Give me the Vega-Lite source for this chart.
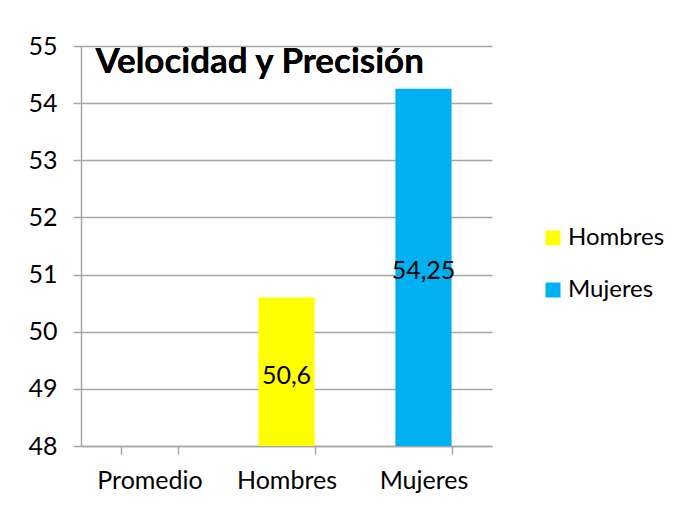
{
  "$schema": "https://vega.github.io/schema/vega-lite/v6.json",
  "width": 411,
  "height": 400,
  "autosize": {"type": "none"},
  "padding": {"left": 81, "top": 46, "right": 195, "bottom": 60},
  "background": "white",
  "data": {
    "values": [
      {"cat": "Hombres", "value": 50.6, "label": "50,6"},
      {"cat": "Mujeres", "value": 54.25, "label": "54,25"}
    ]
  },
  "encoding": {
    "x": {
      "field": "cat",
      "type": "nominal",
      "sort": null,
      "scale": {"domain": ["Promedio", "Hombres", "Mujeres"], "paddingInner": 0.59, "paddingOuter": 0.295},
      "axis": {
        "title": null,
        "labelAngle": 0,
        "tickBand": "extent",
        "tickSize": 8,
        "labelPadding": 14,
        "labelFont": "Lato",
        "labelFontSize": 25,
        "labelColor": "black",
        "domainColor": "#a6a6a6",
        "tickColor": "#a6a6a6",
        "domainWidth": 1.5,
        "tickWidth": 1.5,
        "grid": false
      }
    }
  },
  "layer": [
    {
      "mark": {"type": "bar"},
      "encoding": {
        "y": {
          "field": "value",
          "type": "quantitative",
          "scale": {"domain": [48, 55], "zero": false, "nice": false},
          "axis": {
            "title": null,
            "values": [48, 49, 50, 51, 52, 53, 54, 55],
            "format": "d",
            "grid": true,
            "gridColor": "#a6a6a6",
            "gridWidth": 1.5,
            "domainColor": "#a6a6a6",
            "domainWidth": 1.5,
            "tickColor": "#a6a6a6",
            "tickWidth": 1.5,
            "tickSize": 8,
            "labelPadding": 16,
            "labelFont": "Lato",
            "labelFontSize": 25,
            "labelColor": "black"
          }
        },
        "y2": {"datum": 48},
        "color": {
          "field": "cat",
          "type": "nominal",
          "scale": {"domain": ["Hombres", "Mujeres"], "range": ["#FFFF00", "#00B0F0"]},
          "legend": {
            "title": null,
            "orient": "none",
            "legendX": 460,
            "legendY": 180,
            "padding": 0,
            "symbolType": "square",
            "symbolSize": 225,
            "symbolStrokeWidth": 0,
            "labelFont": "Lato",
            "labelFontSize": 24,
            "labelColor": "black",
            "labelOffset": 3,
            "rowPadding": 28
          }
        }
      }
    },
    {
      "transform": [{"calculate": "(datum.value + 48) / 2", "as": "mid"}],
      "mark": {"type": "text", "baseline": "middle", "dy": 4, "font": "Lato", "fontSize": 25, "color": "black"},
      "encoding": {
        "y": {"field": "mid", "type": "quantitative"},
        "text": {"field": "label"}
      }
    },
    {
      "mark": {"type": "text", "align": "left", "baseline": "alphabetic", "dx": -26, "font": "Lato", "fontSize": 35, "fontWeight": "bold", "color": "black"},
      "encoding": {
        "x": {"datum": "Promedio", "type": "nominal", "bandPosition": 0},
        "y": {"datum": 54.53, "type": "quantitative"},
        "text": {"value": "Velocidad y Precisión"}
      }
    }
  ],
  "config": {"view": {"stroke": null}}
}
